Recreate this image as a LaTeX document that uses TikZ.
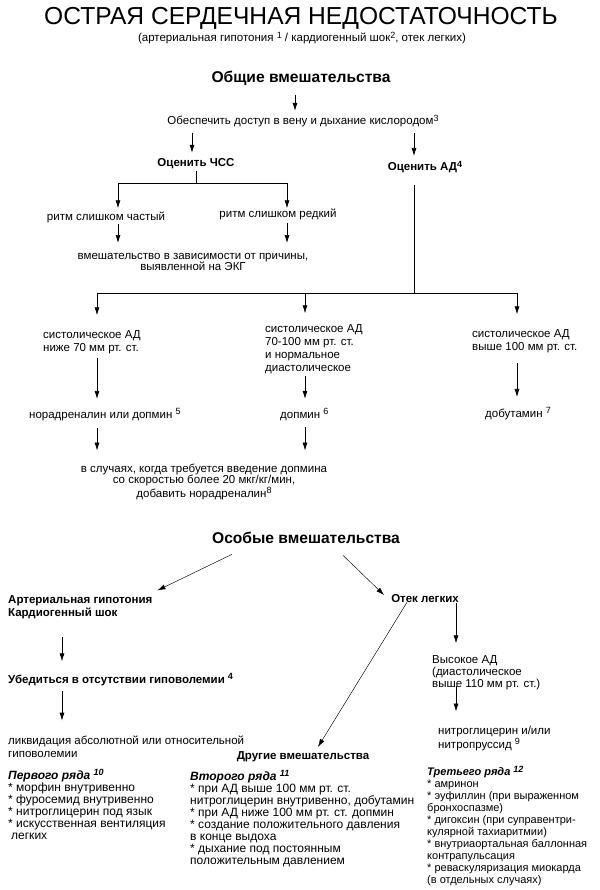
\documentclass[tikz,border=0pt]{standalone}
\usepackage{fontspec}
\setmainfont{Liberation Sans}
\usetikzlibrary{arrows.meta}

\newcommand{\upnum}[1]{\raisebox{0.6ex}{\fontsize{9}{9}\selectfont #1}}

\tikzset{
  txt/.style={inner sep=0pt, font=\fontsize{11.5}{13}\selectfont},
  hd/.style={inner sep=0pt, font=\bfseries\fontsize{11.5}{12.5}\selectfont},
  bighd/.style={inner sep=0pt, font=\bfseries\fontsize{15.6}{18}\selectfont},
  cell/.style={inner sep=0pt, align=left, font=\fontsize{12}{11.9}\selectfont},
  wire/.style={line width=0.7pt},
  arr/.style={-{Latex[length=8pt,width=5pt]}, line width=0.7pt},
  diag/.style={-{Latex[length=8pt,width=5pt]}, line width=0.45pt},
}

\begin{document}
\begin{tikzpicture}[x=1pt,y=-1pt]
                    \useasboundingbox (0,0) rectangle (599,890);
                    {
                    % Title (multi-line nodes are placed by the baseline of their last line)
                    \node[txt, font=\fontsize{24.6}{28}\selectfont, anchor=base] (title) at (301,25) {ОСТРАЯ СЕРДЕЧНАЯ НЕДОСТАТОЧНОСТЬ};
                    \node[txt, anchor=base] (sub) at (302,42) {(артериальная гипотония \upnum{1} / кардиогенный шок\upnum{2}, отек легких)};

                    % Rails for the vertical arrows
                    \coordinate (xgen) at (295,0);
                    \coordinate (xhr) at (192,0);
                    \coordinate (xbp) at (414,0);
                    \coordinate (xfast) at (118,0);
                    \coordinate (xslow) at (287,0);
                    \coordinate (xlow) at (97,0);
                    \coordinate (xmid) at (305,0);
                    \coordinate (xhigh) at (517,0);
                    \coordinate (xshock) at (62,0);
                    \coordinate (xedema) at (456,0);

                    % General measures
                    \node[bighd, anchor=base] (gen) at (301,83) {Общие вмешательства};
                    \node[txt, anchor=base] (access) at (303,125) {Обеспечить доступ в вену и дыхание кислородом\upnum{3}};
                    \node[hd, anchor=base] (hr) at (196,167) {Оценить ЧСС};
                    \node[hd, anchor=base] (bp) at (425,171) {Оценить АД\upnum{\bfseries 4}};
                    \node[txt, anchor=base] (fast) at (106,221) {ритм слишком частый};
                    \node[txt, anchor=base] (slow) at (278,218) {ритм слишком редкий};
                    \node[txt, anchor=base, align=center, font=\fontsize{11.5}{12}\selectfont] (ecg) at (193,271) {вмешательство в зависимости от причины,\\выявленной на ЭКГ};

                    % Blood pressure branches
                    \node[txt, anchor=base west, align=left] (low) at (43,351) {систолическое АД\\ниже 70 мм рт. ст.};
                    \node[txt, anchor=base west, align=left] (mid) at (265,371) {систолическое АД\\70-100 мм рт. ст.\\и нормальное\\диастолическое};
                    \node[txt, anchor=base west, align=left] (high) at (472,350) {систолическое АД\\выше 100 мм рт. ст.};
                    \node[txt, anchor=base west] (nor) at (29,418) {норадреналин или допмин \upnum{5}};
                    \node[txt, anchor=base west] (dop) at (280,418) {допмин \upnum{6}};
                    \node[txt, anchor=base west] (dob) at (485,417) {добутамин \upnum{7}};
                    \node[txt, anchor=base, align=center, font=\fontsize{11.5}{11.5}\selectfont] (add) at (204,497) {в случаях, когда требуется введение допмина\\со скоростью более 20 мкг/кг/мин,\\добавить норадреналин\upnum{8}};

                    % Special measures
                    \node[bighd, anchor=base] (spec) at (306,543) {Особые вмешательства};
                    \node[hd, anchor=base west, align=left] (shock) at (8,616) {Артериальная гипотония\\Кардиогенный шок};
                    \node[hd, anchor=base] (edema) at (425,602) {Отек легких};
                    \node[hd, anchor=base west] (hypo) at (8,683) {Убедиться в отсутствии гиповолемии \upnum{\bfseries 4}};
                    \node[txt, anchor=base west, align=left] (vol) at (8,757) {ликвидация абсолютной или относительной\\гиповолемии};
                    \node[txt, anchor=base west, align=left, font=\fontsize{11.5}{12}\selectfont] (highbp) at (432,687) {Высокое АД\\(диастолическое\\выше 110 мм рт. ст.)};
                    \node[txt, anchor=base west, align=left, font=\fontsize{11.5}{12}\selectfont] (nitro) at (438,748) {нитроглицерин и/или\\нитропруссид \upnum{9}};
                    \node[hd, anchor=base] (other) at (303,759) {Другие вмешательства};

                    % Lines of therapy
                    \node[cell, anchor=base west] (first) at (8,839) {\textbf{\textit{Первого ряда}} \upnum{\bfseries\itshape 10}\\{*} морфин внутривенно\\{*} фуросемид внутривенно\\{*} нитроглицерин под язык\\{*} искусственная вентиляция\\\hspace*{3pt}легких};
                    \node[cell, anchor=base west] (second) at (190,864) {\textbf{\textit{Второго ряда}} \upnum{\bfseries\itshape 11}\\{*} при АД выше 100 мм рт. ст.\\нитроглицерин внутривенно, добутамин\\{*} при АД ниже 100 мм рт. ст. допмин\\{*} создание положительного давления\\в конце выдоха\\{*} дыхание под постоянным\\положительным давлением};
                    \node[cell, font=\fontsize{11}{11.9}\selectfont, anchor=base west] (third) at (427,883) {\textbf{\textit{Третьего ряда}} \upnum{\bfseries\itshape 12}\\{*} амринон\\{*} эуфиллин (при выраженном\\бронхоспазме)\\{*} дигоксин (при суправентри-\\кулярной тахиаритмии)\\{*} внутриаортальная баллонная\\контрапульсация\\{*} реваскуляризация миокарда\\(в отдельных случаях)};

                    % Drawing arrows of the general part
                    \draw[arr, shorten <=9pt, shorten >=4pt] (gen.south -| xgen) -- (access.north -| xgen);
                    \draw[arr, shorten <=5pt, shorten >=6pt] (access.south -| xhr) -- (hr.north -| xhr);
                    \draw[arr, shorten <=5pt, shorten >=5pt] (access.south -| xbp) -- (bp.north -| xbp);

                    % Drawing fork of heart rate
                    \draw[wire, shorten <=2pt] (hr.south) -- ++(0,13.6) coordinate (hrfork);
                    \draw[arr, shorten >=4pt] (hrfork) -| (fast.north -| xfast);
                    \draw[arr, shorten >=1pt] (hrfork) -| (slow.north -| xslow);
                    \draw[arr, shorten <=0pt, shorten >=9.6pt] (fast.south -| xfast) -- (ecg.north -| xfast);
                    \draw[arr, shorten <=2pt, shorten >=9.6pt] (slow.south -| xslow) -- (ecg.north -| xslow);

                    % Drawing fork of blood pressure
                    \draw[wire, shorten <=12pt] (bp.south -| xbp) -- ++(0,119.6) coordinate (bpfork);
                    \draw[arr, shorten >=14.6pt] (bpfork) -| (low.north -| xlow);
                    \draw[arr, shorten >=10.6pt] (bpfork) -| (mid.north -| xmid);
                    \draw[arr, shorten >=14.6pt] (bpfork) -| (high.north -| xhigh);
                    \draw[arr, shorten <=4.6pt, shorten >=9pt] (low.south -| xlow) -- (nor.north -| xlow);
                    \draw[arr, shorten <=2.6pt, shorten >=9pt] (mid.south -| xmid) -- (dop.north -| xmid);
                    \draw[arr, shorten <=10.6pt, shorten >=10pt] (high.south -| xhigh) -- (dob.north -| xhigh);
                    \draw[arr, shorten <=7pt, shorten >=13pt] (nor.south -| xlow) -- (add.north -| xlow);
                    \draw[arr, shorten <=7pt, shorten >=13pt] (dop.south -| xmid) -- (add.north -| xmid);

                    % Drawing arrows of the special part
                    \draw[diag] ([shift={(20,11)}]spec.south west) -- ([shift={(5,-5)}]shock.north east);
                    \draw[diag] ([shift={(37,12)}]spec.south) -- ([shift={(-7,-3)}]edema.west);
                    \draw[arr, shorten <=18.6pt, shorten >=11.6pt] (shock.south -| xshock) -- (hypo.north -| xshock);
                    \draw[arr, shorten <=5.6pt, shorten >=14.6pt] (hypo.south -| xshock) -- (vol.north -| xshock);
                    \draw[diag] ([xshift=-18pt]edema.south) -- ([shift={(15,-4)}]other.north);
                    \draw[arr, shorten <=0.6pt, shorten >=11.6pt] (edema.south -| xedema) -- (highbp.north -| xedema);
                    \draw[arr, shorten <=-4pt, shorten >=14.6pt] (highbp.south -| xedema) -- (nitro.north -| xedema);
                    }
\end{tikzpicture}
\end{document}
